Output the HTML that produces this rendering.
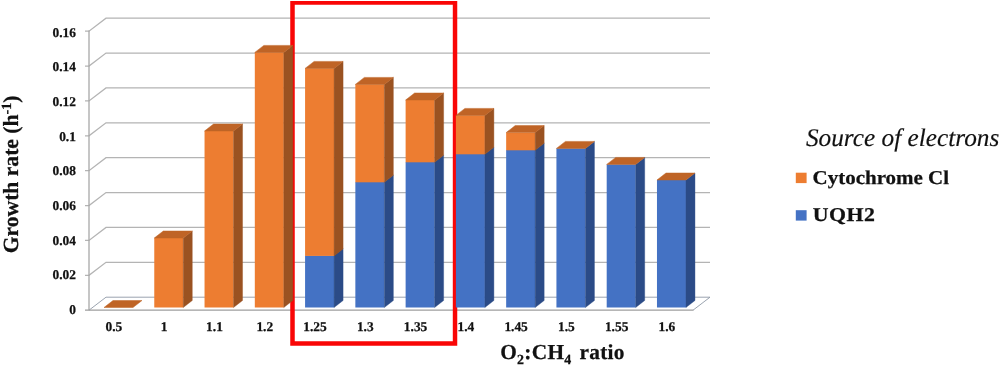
<!DOCTYPE html>
<html><head><meta charset="utf-8"><title>Growth rate vs O2:CH4 ratio</title>
<style>html,body{margin:0;padding:0;background:#fff}svg{display:block}</style></head>
<body>
<svg width="1000" height="365" viewBox="0 0 1000 365">
<rect width="1000" height="365" fill="#fff"/>
<g stroke="#b4b4b4" stroke-width="1.3" fill="none" stroke-linecap="butt">
<path d="M85.00 275.32H89.00L106.00 262.32H710.00"/>
<path d="M85.00 240.45H89.00L106.00 227.45H710.00"/>
<path d="M85.00 205.57H89.00L106.00 192.57H710.00"/>
<path d="M85.00 170.70H89.00L106.00 157.70H710.00"/>
<path d="M85.00 135.82H89.00L106.00 122.82H710.00"/>
<path d="M85.00 100.95H89.00L106.00 87.95H710.00"/>
<path d="M85.00 66.07H89.00L106.00 53.07H710.00"/>
<path d="M85.00 31.20H89.00L106.00 18.20H710.00"/>
<path d="M89.00 30.60V310.20" stroke="#a8a8a8"/>
</g>
<path d="M89.00 310.20L106.00 297.20H710.00L693.00 310.20Z" fill="#fff"/>
<path d="M89.00 310.20L106.00 297.20H710.00L693.00 310.20" fill="none" stroke="#8e98a6" stroke-width="0.9"/>
<path d="M85.00 310.20H693.40" stroke="#9e9e9e" stroke-width="1.25" fill="none"/>
<path d="M290.25 0.9H457.25V345.75H290.25ZM294.75 4.8V341.25H452.8V4.8Z" fill="#f90606" fill-rule="evenodd"/>
<path d="M104.00 307.5H133.00L142.00 300.5H113.00Z" fill="#bf6426" stroke="#bf6426" stroke-width="0.5" stroke-linejoin="round"/>
<rect x="154.27" y="238.00" width="29.00" height="69.50" fill="#ed7d31"/>
<path d="M183.27 238.00L192.27 231.00V300.50L183.27 307.50Z" fill="#9a5221" stroke="#9a5221" stroke-width="0.4" stroke-linejoin="round"/>
<path d="M154.27 238.00H183.27L192.27 231.00H163.27Z" fill="#bf6426" stroke="#bf6426" stroke-width="0.5" stroke-linejoin="round"/>
<rect x="204.54" y="131.00" width="29.00" height="176.50" fill="#ed7d31"/>
<path d="M233.54 131.00L242.54 124.00V300.50L233.54 307.50Z" fill="#9a5221" stroke="#9a5221" stroke-width="0.4" stroke-linejoin="round"/>
<path d="M204.54 131.00H233.54L242.54 124.00H213.54Z" fill="#bf6426" stroke="#bf6426" stroke-width="0.5" stroke-linejoin="round"/>
<rect x="254.81" y="52.40" width="29.00" height="255.10" fill="#ed7d31"/>
<path d="M283.81 52.40L292.81 45.40V300.50L283.81 307.50Z" fill="#9a5221" stroke="#9a5221" stroke-width="0.4" stroke-linejoin="round"/>
<path d="M254.81 52.40H283.81L292.81 45.40H263.81Z" fill="#bf6426" stroke="#bf6426" stroke-width="0.5" stroke-linejoin="round"/>
<rect x="305.08" y="255.60" width="29.00" height="51.90" fill="#4472c4"/>
<path d="M334.08 255.60L343.08 248.60V300.50L334.08 307.50Z" fill="#2b4b87" stroke="#2b4b87" stroke-width="0.4" stroke-linejoin="round"/>
<rect x="305.08" y="68.40" width="29.00" height="187.50" fill="#ed7d31"/>
<path d="M334.08 68.40L343.08 61.40V248.90L334.08 255.90Z" fill="#9a5221" stroke="#9a5221" stroke-width="0.4" stroke-linejoin="round"/>
<path d="M305.08 68.40H334.08L343.08 61.40H314.08Z" fill="#bf6426" stroke="#bf6426" stroke-width="0.5" stroke-linejoin="round"/>
<rect x="355.35" y="182.00" width="29.00" height="125.50" fill="#4472c4"/>
<path d="M384.35 182.00L393.35 175.00V300.50L384.35 307.50Z" fill="#2b4b87" stroke="#2b4b87" stroke-width="0.4" stroke-linejoin="round"/>
<rect x="355.35" y="84.40" width="29.00" height="97.90" fill="#ed7d31"/>
<path d="M384.35 84.40L393.35 77.40V175.30L384.35 182.30Z" fill="#9a5221" stroke="#9a5221" stroke-width="0.4" stroke-linejoin="round"/>
<path d="M355.35 84.40H384.35L393.35 77.40H364.35Z" fill="#bf6426" stroke="#bf6426" stroke-width="0.5" stroke-linejoin="round"/>
<rect x="405.62" y="162.00" width="29.00" height="145.50" fill="#4472c4"/>
<path d="M434.62 162.00L443.62 155.00V300.50L434.62 307.50Z" fill="#2b4b87" stroke="#2b4b87" stroke-width="0.4" stroke-linejoin="round"/>
<rect x="405.62" y="100.00" width="29.00" height="62.30" fill="#ed7d31"/>
<path d="M434.62 100.00L443.62 93.00V155.30L434.62 162.30Z" fill="#9a5221" stroke="#9a5221" stroke-width="0.4" stroke-linejoin="round"/>
<path d="M405.62 100.00H434.62L443.62 93.00H414.62Z" fill="#bf6426" stroke="#bf6426" stroke-width="0.5" stroke-linejoin="round"/>
<rect x="455.89" y="154.00" width="29.00" height="153.50" fill="#4472c4"/>
<path d="M484.89 154.00L493.89 147.00V300.50L484.89 307.50Z" fill="#2b4b87" stroke="#2b4b87" stroke-width="0.4" stroke-linejoin="round"/>
<rect x="455.89" y="115.40" width="29.00" height="38.90" fill="#ed7d31"/>
<path d="M484.89 115.40L493.89 108.40V147.30L484.89 154.30Z" fill="#9a5221" stroke="#9a5221" stroke-width="0.4" stroke-linejoin="round"/>
<path d="M455.89 115.40H484.89L493.89 108.40H464.89Z" fill="#bf6426" stroke="#bf6426" stroke-width="0.5" stroke-linejoin="round"/>
<rect x="506.16" y="150.00" width="29.00" height="157.50" fill="#4472c4"/>
<path d="M535.16 150.00L544.16 143.00V300.50L535.16 307.50Z" fill="#2b4b87" stroke="#2b4b87" stroke-width="0.4" stroke-linejoin="round"/>
<rect x="506.16" y="132.60" width="29.00" height="17.70" fill="#ed7d31"/>
<path d="M535.16 132.60L544.16 125.60V143.30L535.16 150.30Z" fill="#9a5221" stroke="#9a5221" stroke-width="0.4" stroke-linejoin="round"/>
<path d="M506.16 132.60H535.16L544.16 125.60H515.16Z" fill="#bf6426" stroke="#bf6426" stroke-width="0.5" stroke-linejoin="round"/>
<rect x="556.43" y="148.40" width="29.00" height="159.10" fill="#4472c4"/>
<path d="M585.43 148.40L594.43 141.40V300.50L585.43 307.50Z" fill="#2b4b87" stroke="#2b4b87" stroke-width="0.4" stroke-linejoin="round"/>
<path d="M556.43 148.40H585.43L594.43 141.40H565.43Z" fill="#bf6426" stroke="#bf6426" stroke-width="0.5" stroke-linejoin="round"/>
<rect x="606.70" y="164.40" width="29.00" height="143.10" fill="#4472c4"/>
<path d="M635.70 164.40L644.70 157.40V300.50L635.70 307.50Z" fill="#2b4b87" stroke="#2b4b87" stroke-width="0.4" stroke-linejoin="round"/>
<path d="M606.70 164.40H635.70L644.70 157.40H615.70Z" fill="#bf6426" stroke="#bf6426" stroke-width="0.5" stroke-linejoin="round"/>
<rect x="656.97" y="180.00" width="29.00" height="127.50" fill="#4472c4"/>
<path d="M685.97 180.00L694.97 173.00V300.50L685.97 307.50Z" fill="#2b4b87" stroke="#2b4b87" stroke-width="0.4" stroke-linejoin="round"/>
<path d="M656.97 180.00H685.97L694.97 173.00H665.97Z" fill="#bf6426" stroke="#bf6426" stroke-width="0.5" stroke-linejoin="round"/>
<g font-family="'Liberation Serif', serif" font-weight="bold" fill="#111" stroke="#111" stroke-width="0.25" text-rendering="geometricPrecision">
<text transform="translate(75.9 314.20) scale(1.0 1)" font-size="13.4" text-anchor="end">0</text>
<text transform="translate(75.9 279.49) scale(1.0 1)" font-size="13.4" text-anchor="end">0.02</text>
<text transform="translate(75.9 244.78) scale(1.0 1)" font-size="13.4" text-anchor="end">0.04</text>
<text transform="translate(75.9 210.07) scale(1.0 1)" font-size="13.4" text-anchor="end">0.06</text>
<text transform="translate(75.9 175.36) scale(1.0 1)" font-size="13.4" text-anchor="end">0.08</text>
<text transform="translate(75.9 140.65) scale(1.0 1)" font-size="13.4" text-anchor="end">0.1</text>
<text transform="translate(75.9 105.94) scale(1.0 1)" font-size="13.4" text-anchor="end">0.12</text>
<text transform="translate(75.9 71.23) scale(1.0 1)" font-size="13.4" text-anchor="end">0.14</text>
<text transform="translate(75.9 36.52) scale(1.0 1)" font-size="13.4" text-anchor="end">0.16</text>
<text transform="translate(113.94 330.8) scale(1.0 1)" font-size="13.4" text-anchor="middle">0.5</text>
<text transform="translate(164.21 330.8) scale(1.0 1)" font-size="13.4" text-anchor="middle">1</text>
<text transform="translate(214.48 330.8) scale(1.0 1)" font-size="13.4" text-anchor="middle">1.1</text>
<text transform="translate(264.75 330.8) scale(1.0 1)" font-size="13.4" text-anchor="middle">1.2</text>
<text transform="translate(315.02 330.8) scale(1.0 1)" font-size="13.4" text-anchor="middle">1.25</text>
<text transform="translate(365.29 330.8) scale(1.0 1)" font-size="13.4" text-anchor="middle">1.3</text>
<text transform="translate(415.56 330.8) scale(1.0 1)" font-size="13.4" text-anchor="middle">1.35</text>
<text transform="translate(465.83 330.8) scale(1.0 1)" font-size="13.4" text-anchor="middle">1.4</text>
<text transform="translate(516.10 330.8) scale(1.0 1)" font-size="13.4" text-anchor="middle">1.45</text>
<text transform="translate(566.37 330.8) scale(1.0 1)" font-size="13.4" text-anchor="middle">1.5</text>
<text transform="translate(616.63 330.8) scale(1.0 1)" font-size="13.4" text-anchor="middle">1.55</text>
<text transform="translate(666.90 330.8) scale(1.0 1)" font-size="13.4" text-anchor="middle">1.6</text>
<text x="500.2" y="359.4" font-size="21.33" letter-spacing="0.3" word-spacing="2.2">O<tspan font-size="13.9" dy="4.3">2</tspan><tspan dy="-4.3">:CH</tspan><tspan font-size="13.9" dy="4.3">4</tspan><tspan dy="-4.3"> ratio</tspan></text>
<text transform="translate(18.3 253.2) rotate(-90)" font-size="21.6">Growth rate (h<tspan font-size="14" dy="-7.6">-1</tspan><tspan dy="7.6">)</tspan></text>
<text transform="translate(812.6 183.8) scale(1.075 1)" font-size="19.5">Cytochrome Cl</text>
<text transform="translate(812.8 220.6) scale(1.12 1)" font-size="19.5" letter-spacing="0.4">UQH2</text>
</g>
<text x="805.9" y="145.8" font-family="'Liberation Serif', serif" font-style="italic" font-size="25.3" fill="#111" stroke="#111" stroke-width="0.15" text-rendering="geometricPrecision">Source of electrons</text>
<rect x="795.8" y="172.7" width="10.8" height="10.4" fill="#ed7d31"/>
<rect x="795.8" y="210.2" width="10.8" height="10.4" fill="#4472c4"/>
</svg>
</body></html>
